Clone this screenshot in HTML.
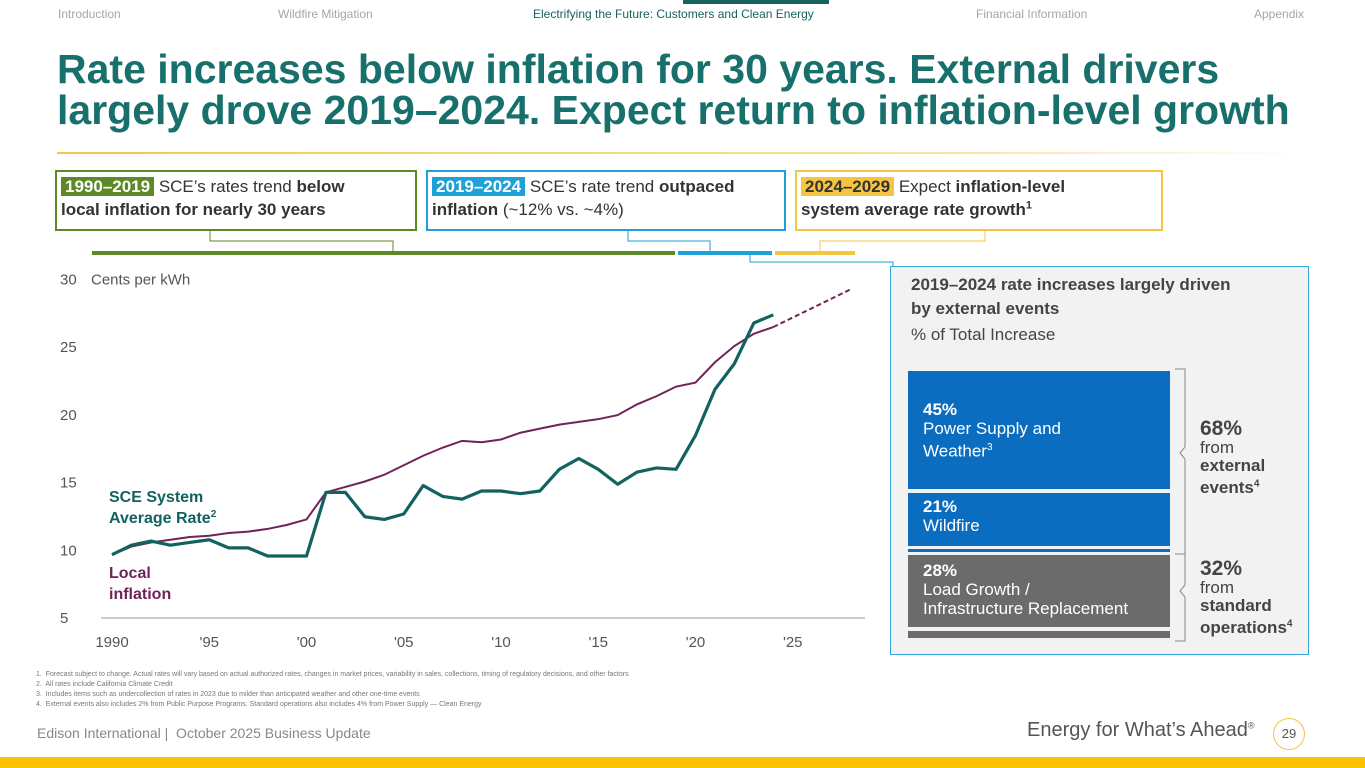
<!DOCTYPE html>
<html><head><meta charset="utf-8">
<style>
body{margin:0;width:1365px;height:768px;position:relative;background:#fff;font-family:"Liberation Sans",sans-serif;overflow:hidden}
.a{position:absolute}
.nav{top:7px;font-size:12px;color:#a6a6a6}
.box{position:absolute;border:2px solid;font-size:17px;line-height:23px;color:#333;padding:3px 4px;box-sizing:border-box;white-space:nowrap}
.tag{color:#fff;font-weight:bold;padding:0 4px}
.rl{font-size:17px;line-height:19px;color:#fff}
</style></head><body>
<div class="a nav" style="left:58px">Introduction</div>
<div class="a nav" style="left:278px">Wildfire Mitigation</div>
<div class="a" style="left:683px;top:0;width:146px;height:4px;background:#17625f"></div>
<div class="a nav" style="left:533px;color:#17625f">Electrifying the Future: Customers and Clean Energy</div>
<div class="a nav" style="left:976px">Financial Information</div>
<div class="a nav" style="left:1254px">Appendix</div>
<div class="a" style="left:57px;top:49px;font-size:41px;line-height:41px;font-weight:bold;color:#17706b;white-space:nowrap">Rate increases below inflation for 30 years. External drivers<br>largely drove 2019–2024. Expect return to inflation-level growth</div>
<div class="a" style="left:57px;top:152px;width:1253px;height:2px;background:linear-gradient(90deg,#f3c846,#f7e3a0 70%,#fff)"></div>

<div class="box" style="left:55px;top:170px;width:362px;height:61px;border-color:#5d8a26"><span class="tag" style="background:#5d8a26">1990–2019</span> SCE’s rates trend <b>below</b><br><b>local inflation for nearly 30 years</b></div>
<div class="box" style="left:426px;top:170px;width:360px;height:61px;border-color:#1ea1d9"><span class="tag" style="background:#1ea1d9">2019–2024</span> SCE’s rate trend <b>outpaced</b><br><b>inflation</b> (~12% vs. ~4%)</div>
<div class="box" style="left:795px;top:170px;width:368px;height:61px;border-color:#f5c542"><span class="tag" style="background:#f5c542;color:#333">2024–2029</span> Expect <b>inflation-level</b><br><b>system average rate growth<sup style="font-size:11px;line-height:0">1</sup></b></div>

<svg class="a" style="left:0;top:0" width="1365" height="768">
<polyline points="210,231 210,241 393,241 393,252" fill="none" stroke="#5d8a26"/>
<polyline points="628,231 628,241 710,241 710,252" fill="none" stroke="#1ea1d9"/>
<polyline points="985,231 985,241 820,241 820,252" fill="none" stroke="#f5c542"/>
<polyline points="750,255 750,262 893,262 893,268" fill="none" stroke="#1ea1d9"/>
<rect x="92" y="251" width="583" height="4" fill="#5d8a26"/>
<rect x="678" y="251" width="94" height="4" fill="#1ea1d9"/>
<rect x="775" y="251" width="80" height="4" fill="#f5c542"/>
</svg>

<svg id="chart" class="a" style="left:0;top:0" width="880" height="665"></svg>

<div class="a" style="left:890px;top:266px;width:419px;height:389px;background:#f2f2f2;border:1px solid #36a3d9;box-sizing:border-box"></div>
<div class="a" style="left:911px;top:273px;font-size:17px;line-height:24px;font-weight:bold;color:#444">2019–2024 rate increases largely driven<br>by external events</div>
<div class="a" style="left:911px;top:325px;font-size:17px;color:#444">% of Total Increase</div>
<div class="a" style="left:908px;top:371px;width:262px;height:118px;background:#0b6dbf"><div class="rl" style="padding:29px 0 0 15px"><b>45%</b><br>Power Supply and<br>Weather<sup style="font-size:10px">3</sup></div></div>
<div class="a" style="left:908px;top:493px;width:262px;height:53px;background:#0b6dbf"><div class="rl" style="padding:4px 0 0 15px"><b>21%</b><br>Wildfire</div></div>
<div class="a" style="left:908px;top:549px;width:262px;height:3px;background:#0b6dbf"></div>
<div class="a" style="left:908px;top:555px;width:262px;height:72px;background:#6b6b6b"><div class="rl" style="padding:6px 0 0 15px"><b>28%</b><br>Load Growth /<br>Infrastructure Replacement</div></div>
<div class="a" style="left:908px;top:631px;width:262px;height:7px;background:#6b6b6b"></div>
<svg class="a" style="left:1170px;top:365px" width="30" height="280">
<polyline points="5,4 15,4 15,82 10,88 15,94 15,189 5,189" fill="none" stroke="#888"/>
<polyline points="15,189 15,220 10,226 15,232 15,276 5,276" fill="none" stroke="#888"/>
</svg>
<div class="a" style="left:1200px;top:420px;font-size:17px;line-height:18px;color:#444"><b style="font-size:21px">68%</b><br>from<br><b>external<br>events<sup style="font-size:10px">4</sup></b></div>
<div class="a" style="left:1200px;top:560px;font-size:17px;line-height:18px;color:#444"><b style="font-size:21px">32%</b><br>from<br><b>standard<br>operations<sup style="font-size:10px">4</sup></b></div>

<div class="a" style="left:36px;top:670px;font-size:7px;line-height:10px;color:#777">1.&nbsp; Forecast subject to change. Actual rates will vary based on actual authorized rates, changes in market prices, variability in sales, collections, timing of regulatory decisions, and other factors<br>2.&nbsp; All rates include California Climate Credit<br>3.&nbsp; Includes items such as undercollection of rates in 2023 due to milder than anticipated weather and other one-time events<br>4.&nbsp; External events also includes 2% from Public Purpose Programs. Standard operations also includes 4% from Power Supply — Clean Energy</div>
<div class="a" style="left:37px;top:725px;font-size:14px;color:#888">Edison International | &nbsp;October 2025 Business Update</div>
<div class="a" style="left:1027px;top:719px;font-size:20px;color:#555">Energy for What’s Ahead<sup style="font-size:9px">®</sup></div>
<div class="a" style="left:1273px;top:718px;width:32px;height:32px;border:1px solid #f5c542;border-radius:50%;box-sizing:border-box;text-align:center;line-height:30px;font-size:13px;color:#555">29</div>
<div class="a" style="left:0;top:757px;width:1365px;height:11px;background:#fdc300"></div>

<script>
const years=[1990,1991,1992,1993,1994,1995,1996,1997,1998,1999,2000,2001,2002,2003,2004,2005,2006,2007,2008,2009,2010,2011,2012,2013,2014,2015,2016,2017,2018,2019,2020,2021,2022,2023,2024];
const sceRate=[9.6,10.3,10.6,10.3,10.5,10.7,10.1,10.1,9.5,9.5,9.5,14.2,14.2,12.4,12.2,12.6,14.7,13.9,13.7,14.3,14.3,14.1,14.3,15.9,16.7,15.9,14.8,15.7,16.0,15.9,18.4,21.8,23.7,26.7,27.3];
const inflation=[9.6,10.2,10.5,10.7,10.9,11.0,11.2,11.3,11.5,11.8,12.2,14.2,14.6,15.0,15.5,16.2,16.9,17.5,18.0,17.9,18.1,18.6,18.9,19.2,19.4,19.6,19.9,20.7,21.3,22.0,22.3,23.8,25.0,25.9,26.4];
const forecastYears=[2024,2028];
const forecastValues=[26.4,29.2];
const yTicks=[5,10,15,20,25,30];
const xTickYears=[1990,1995,2000,2005,2010,2015,2020,2025];
const xTickLabels=["1990","'95","'00","'05","'10","'15","'20","'25"];
const NS="http://www.w3.org/2000/svg";
const svg=document.getElementById('chart');
const X=y=>112+(y-1990)*19.45;
const Y=v=>617-(v-5)*13.55;
function mk(t,a){const e=document.createElementNS(NS,t);for(const k in a)e.setAttribute(k,a[k]);svg.appendChild(e);return e;}
const ax=mk('line',{x1:101,x2:865,y1:Y(5)+1,y2:Y(5)+1,stroke:'#999','stroke-width':1});


yTicks.forEach(v=>{const t=mk('text',{x:60,y:Y(v)+6,'font-size':15,fill:'#555','font-family':'Liberation Sans'});t.textContent=v;

});
const u=mk('text',{x:91,y:Y(30)+6,'font-size':15,fill:'#555','font-family':'Liberation Sans'});u.textContent='Cents per kWh';


xTickYears.forEach((y,i)=>{const t=mk('text',{x:X(y),y:647,'font-size':15,fill:'#555','text-anchor':'middle','font-family':'Liberation Sans'});t.textContent=xTickLabels[i];

});
const pts=(xs,vs)=>xs.map((y,i)=>X(y)+','+Y(vs[i])).join(' ');
const inf=mk('polyline',{points:pts(years,inflation),fill:'none',stroke:'#722257','stroke-width':2});


const fc=mk('polyline',{points:pts(forecastYears,forecastValues),fill:'none',stroke:'#722257','stroke-width':2,'stroke-dasharray':'5,3'});


const sce=mk('polyline',{points:pts(years,sceRate),fill:'none',stroke:'#12625f','stroke-width':3.2,'stroke-linejoin':'round'});


function lab(txt,x,y,c,name){const t=mk('text',{x:x,y:y,'font-size':16,'font-weight':'bold',fill:c,'font-family':'Liberation Sans'});t.textContent=txt;

return t;}
lab('SCE System',109,502,'#12625f','sce-label');
const l2=lab('Average Rate',109,523,'#12625f','sce-label-2');
const s=document.createElementNS(NS,'tspan');s.setAttribute('font-size','10');s.setAttribute('dy','-6');s.textContent='2';l2.appendChild(s);
lab('Local',109,578,'#722257','inflation-label');
lab('inflation',109,599,'#722257','inflation-label-2');
</script>
</body></html>
